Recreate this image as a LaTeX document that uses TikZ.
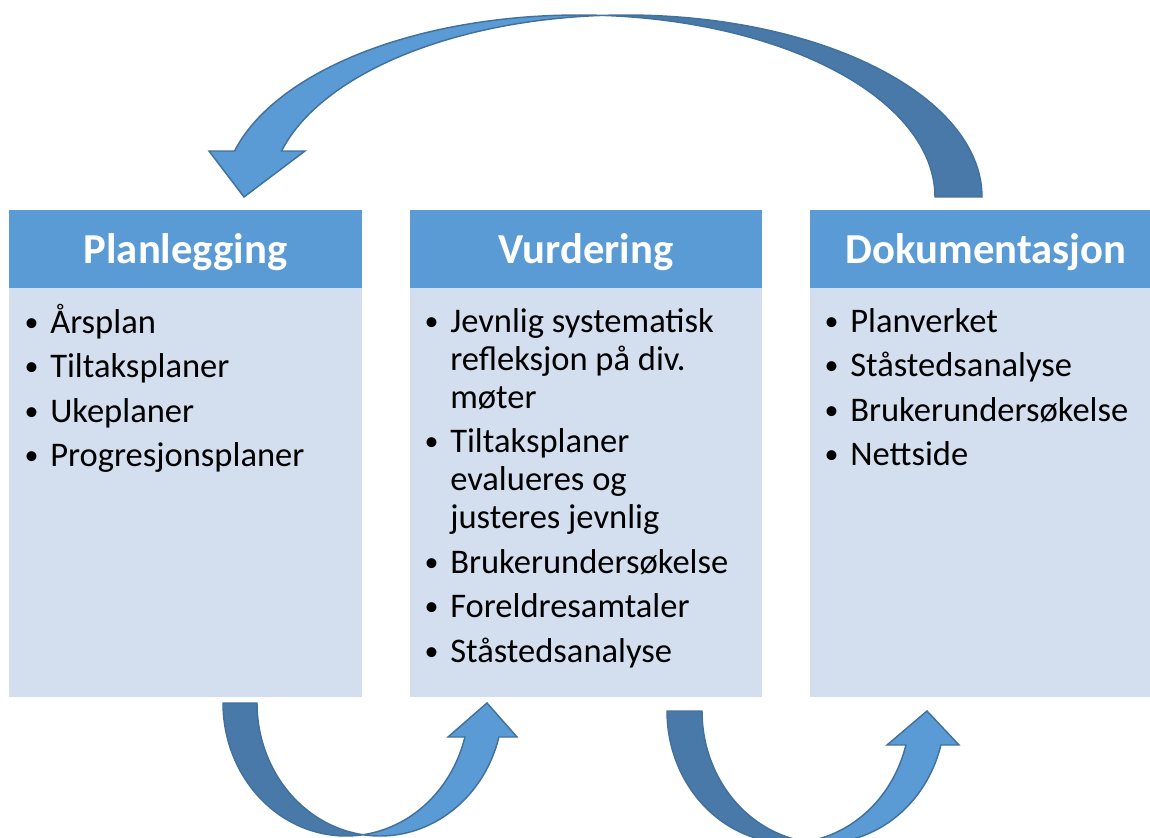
\documentclass[tikz,border=0pt]{standalone}
\usepackage{fontspec}
\setmainfont{Carlito}
\definecolor{hdr}{HTML}{5B9BD5}
\definecolor{bodyc}{HTML}{D3DFEE}
\definecolor{darkband}{HTML}{4879A8}
\definecolor{lightband}{HTML}{5B9BD5}
\definecolor{bandline}{HTML}{41719C}
\tikzset{
  hdrfill/.style={fill=hdr},
  bodyfill/.style={fill=bodyc},
  backband/.style={fill=darkband, draw=bandline, line width=1.1pt, line join=miter},
  frontband/.style={fill=lightband, draw=bandline, line width=1.1pt, line join=miter},
  hdrtext/.style={font=\fontsize{32}{38}\selectfont\bfseries, text=white, inner sep=0pt, anchor=base},
  itemtext/.style={font=\fontsize{25.9}{30}\selectfont, inner sep=0pt, anchor=base west},
  bullettext/.style={font=\fontsize{21}{24}\selectfont, inner sep=0pt, anchor=base},
  arcplot/.style={domain=#1, samples=80, variable=\t}
}
\begin{document}
\begin{tikzpicture}[x=0.75pt, y=-0.75pt]
\useasboundingbox (0,0) rectangle (1150,838);

% boxes
\path[hdrfill] (9,210) rectangle (362,288);
\path[bodyfill] (9,288) rectangle (362,697);
\path[hdrfill] (410,210) rectangle (762,288);
\path[bodyfill] (410,288) rectangle (762,697);
\path[hdrfill] (810,210) rectangle (1150,288);
\path[bodyfill] (810,288) rectangle (1150,697);

% headers
\node[hdrtext] (h1) at (185.5,263) {Planlegging};
\node[hdrtext] (h2) at (586,263) {Vurdering};
\node[hdrtext] (h3) at (986,263) {Dokumentasjon};

% box 1 items
\node[bullettext] (b11) at (31.5,331) {•};
\node[itemtext] (t11) at (50,333) {Årsplan};
\node[bullettext] (b12) at (31.5,375.5) {•};
\node[itemtext] (t12) at (50,377.5) {Tiltaksplaner};
\node[bullettext] (b13) at (31.5,420) {•};
\node[itemtext] (t13) at (50,422) {Ukeplaner};
\node[bullettext] (b14) at (31.5,464.5) {•};
\node[itemtext] (t14) at (50,466.5) {Progresjonsplaner};

% box 2 items
\node[bullettext] (b21) at (431.5,330) {•};
\node[itemtext] (t21a) at (450,332) {Jevnlig systematisk};
\node[itemtext] (t21b) at (450,370) {refleksjon på div.};
\node[itemtext] (t21c) at (450,408) {møter};
\node[bullettext] (b22) at (431.5,450.5) {•};
\node[itemtext] (t22a) at (450,452.5) {Tiltaksplaner};
\node[itemtext] (t22b) at (450,490.5) {evalueres og};
\node[itemtext] (t22c) at (450,528.5) {justeres jevnlig};
\node[bullettext] (b23) at (431.5,571) {•};
\node[itemtext] (t23) at (450,573) {Brukerundersøkelse};
\node[bullettext] (b24) at (431.5,615.5) {•};
\node[itemtext] (t24) at (450,617.5) {Foreldresamtaler};
\node[bullettext] (b25) at (431.5,660) {•};
\node[itemtext] (t25) at (450,662) {Ståstedsanalyse};

% box 3 items
\node[bullettext] (b31) at (831.5,330) {•};
\node[itemtext] (t31) at (850,332) {Planverket};
\node[bullettext] (b32) at (831.5,374.5) {•};
\node[itemtext] (t32) at (850,376.5) {Ståstedsanalyse};
\node[bullettext] (b33) at (831.5,419) {•};
\node[itemtext] (t33) at (850,421) {Brukerundersøkelse};
\node[bullettext] (b34) at (831.5,463.5) {•};
\node[itemtext] (t34) at (850,465.5) {Nettside};

% top curved arrow (Dokumentasjon -> Planlegging)
\path[backband]
  plot[arcplot=0:93.78] ({626+356*cos(\t)}, {197-182*sin(\t)})
  -- plot[arcplot=86.22:0] ({579+356*cos(\t)}, {197-182*sin(\t)}) -- cycle;
\path[frontband]
  plot[arcplot=86.22:165.36] ({579+356*cos(\t)}, {197-182*sin(\t)})
  -- (209,151) -- (244,197) -- (305,151)
  -- plot[arcplot=165.36:93.78] ({626+356*cos(\t)}, {197-182*sin(\t)}) -- cycle;

% bottom left arrow (Planlegging -> Vurdering)
\path[backband]
  plot[arcplot=180:82.06] ({346+123*cos(\t)}, {703+133*sin(\t)})
  -- plot[arcplot=97.94:180] ({380+123*cos(\t)}, {703+133*sin(\t)}) -- cycle;
\path[frontband]
  plot[arcplot=97.94:14.81] ({380+123*cos(\t)}, {703+133*sin(\t)})
  -- (517,737) -- (487,703) -- (448,737)
  -- plot[arcplot=14.81:82.06] ({346+123*cos(\t)}, {703+133*sin(\t)}) -- cycle;

% bottom right arrow (Vurdering -> Dokumentasjon)
\path[backband]
  plot[arcplot=180:81.72] ({788.5+121.5*cos(\t)}, {711+132*sin(\t)})
  -- plot[arcplot=98.28:180] ({823.5+121.5*cos(\t)}, {711+132*sin(\t)}) -- cycle;
\path[frontband]
  plot[arcplot=98.28:14.93] ({823.5+121.5*cos(\t)}, {711+132*sin(\t)})
  -- (959,745) -- (927,711) -- (887,745)
  -- plot[arcplot=14.93:81.72] ({788.5+121.5*cos(\t)}, {711+132*sin(\t)}) -- cycle;
\end{tikzpicture}
\end{document}
